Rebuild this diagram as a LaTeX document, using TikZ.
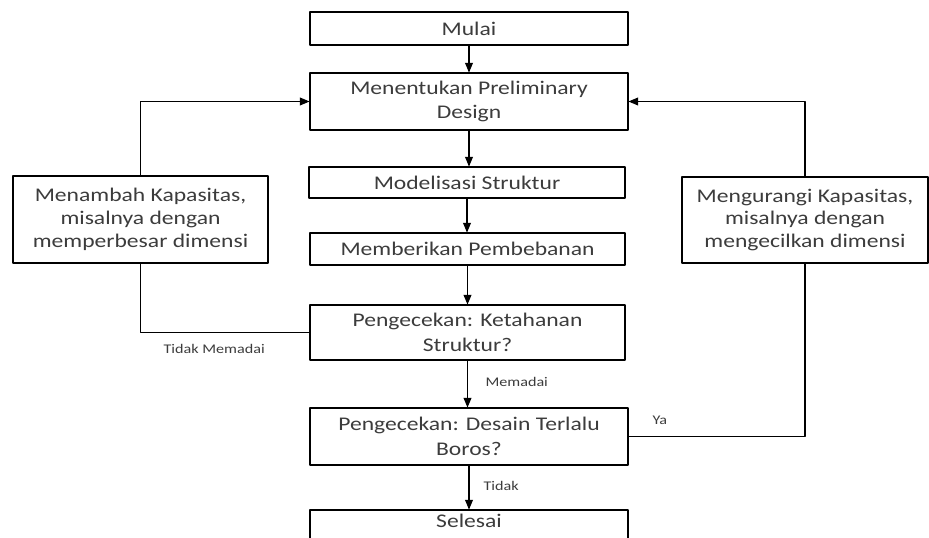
\documentclass[tikz,border=0pt]{standalone}
\usepackage{fontspec}
\setmainfont{Carlito}[FakeStretch=1.22]
\usepackage{tikz}
\usetikzlibrary{arrows}
\definecolor{teks}{RGB}{60,60,60}
\tikzset{kotak/.style={draw,line width=0.9pt,fill=white,text=teks,align=center,inner sep=0pt,font=\fontsize{16.5}{21}\selectfont},
         ket/.style={text=teks,inner sep=0pt,anchor=west,font=\fontsize{11.3}{13}\selectfont}}

\begin{document}
\begin{tikzpicture}[line cap=round,line join=round,>=triangle 45,x=0.03cm,y=-0.03cm,line width=0.9pt]
                  \useasboundingbox (0,0) rectangle (929,538);
                  \clip (0,0) rectangle (929,538);
                  \node[kotak,minimum width=318*0.03cm,minimum height=33*0.03cm] (mulai) at (469,28.5) {Mulai};
                  \node[kotak,minimum width=318*0.03cm,minimum height=57*0.03cm] (prelim) at (469,101.5) {Menentukan Preliminary\\Design};
                  \node[kotak,minimum width=316*0.03cm,minimum height=31*0.03cm] (model) at (467,182.5) {Modelisasi Struktur};
                  \node[kotak,minimum width=315*0.03cm,minimum height=32*0.03cm] (beban) at (467.5,249) {Memberikan Pembebanan};
                  \node[kotak,minimum width=315*0.03cm,minimum height=55*0.03cm] (tahan) at (467.5,332.5) {Pengecekan: Ketahanan\\Struktur?};
                  \node[kotak,minimum width=318*0.03cm,minimum height=57*0.03cm] (boros) at (469,436.5) {Pengecekan: Desain Terlalu\\Boros?};
                  \node[kotak,minimum width=318*0.03cm,minimum height=56*0.03cm] (selesai) at (469,538) {};
                  \node[text=teks,font=\fontsize{16.5}{21}\selectfont] (teksselesai) at (469,521) {Selesai};
                  \node[kotak,minimum width=255*0.03cm,minimum height=87*0.03cm,font=\fontsize{16.5}{19.5}\selectfont] (tambah) at (140.5,219.5) {Menambah Kapasitas,\\misalnya dengan\\memperbesar dimensi};
                  \node[kotak,minimum width=246*0.03cm,minimum height=86*0.03cm,font=\fontsize{16.5}{19.5}\selectfont] (kurang) at (805,220) {Mengurangi Kapasitas,\\misalnya dengan\\mengecilkan dimensi};
                  % alur utama
                  \draw [->] (mulai.south) -- (mulai.south |- prelim.north);
                  \draw [->] (prelim.south) -- (prelim.south |- model.north);
                  \draw [->] (model.south) -- (model.south |- beban.north);
                  \draw [->] (beban.south) -- (beban.south |- tahan.north);
                  \draw [->] (tahan.south) -- (tahan.south |- boros.north);
                  \draw [->] (boros.south) -- (boros.south |- selesai.north);
                  % umpan balik
                  \draw [->] (tambah.north) |- (prelim.west);
                  \draw (tahan.west) -| (tambah.south);
                  \draw [->] (kurang.north) |- (prelim.east);
                  \draw (boros.east) -| (kurang.south);
                  \node[ket] (memadai) at (485,382) {Memadai};
                  \node[ket] (tidak) at (483,486) {Tidak};
                  \node[ket] (ya) at (652,420) {Ya};
                  \node[ket] (tidakmemadai) at (163,349) {Tidak Memadai};
              \end{tikzpicture}
\end{document}
